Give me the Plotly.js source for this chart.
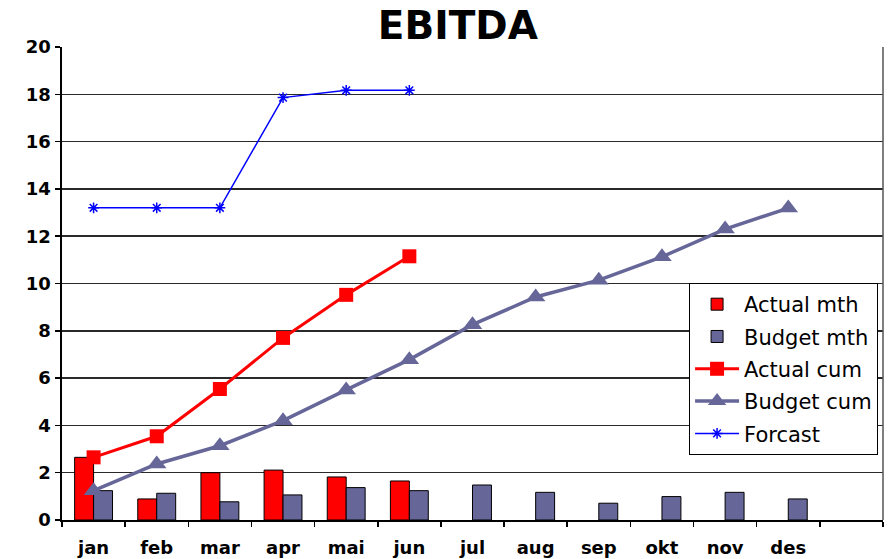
<!DOCTYPE html>
<html>
<head>
<meta charset="utf-8">
<script src="https://cdn.plot.ly/plotly-3.0.1.min.js"></script>
<style>html,body{margin:0;padding:0;background:#fff;}#chart{width:889px;height:559px;}</style>
</head>
<body>
<div id="chart"></div>
<script>
var months = ["jan","feb","mar","apr","mai","jun","jul","aug","sep","okt","nov","des"];
var allCategories = ["jan","feb","mar","apr","mai","jun","jul","aug","sep","okt","nov","des"," "];
var actualMth = [2.65, 0.89, 2.0, 2.11, 1.82, 1.65];
var budgetMth = [1.24, 1.13, 0.77, 1.06, 1.37, 1.24, 1.48, 1.17, 0.71, 0.99, 1.17, 0.89];
var actualCum = [2.65, 3.54, 5.54, 7.70, 9.52, 11.15];
var budgetCum = [1.24, 2.37, 3.14, 4.20, 5.50, 6.78, 8.26, 9.43, 10.14, 11.13, 12.30, 13.19];
var forecast = [13.2, 13.2, 13.2, 17.86, 18.17, 18.17];

var traces = [
  {type:"bar", name:"Actual mth", x:months.slice(0, actualMth.length), y:actualMth,
   marker:{color:"#FF0000", line:{color:"#000", width:1}}, legendgroup:"a"},
  {type:"bar", name:"Budget mth", x:months, y:budgetMth,
   marker:{color:"#666699", line:{color:"#000", width:1}}, legendgroup:"b"},
  {type:"scatter", mode:"lines+markers", name:"Actual cum", x:months.slice(0, actualCum.length), y:actualCum,
   line:{color:"#FF0000", width:3}, marker:{symbol:"square", size:14, color:"#FF0000"}, legendgroup:"c"},
  {type:"scatter", mode:"lines+markers", name:"Budget cum", x:months, y:budgetCum,
   line:{color:"#666699", width:3.5}, marker:{symbol:"triangle-up", size:17, color:"#666699"}, legendgroup:"d"},
  {type:"scatter", mode:"lines+markers", name:"Forcast", x:months.slice(0, forecast.length), y:forecast,
   line:{color:"#0000FF", width:1.5}, marker:{symbol:"asterisk-open", size:9, color:"#0000FF", line:{color:"#0000FF", width:1.5}}, legendgroup:"e"}
];

var layout = {
  width:889, height:559,
  margin:{l:62, r:6, t:47, b:39},
  paper_bgcolor:"#fff", plot_bgcolor:"#fff",
  font:{family:"DejaVu Sans, Verdana, sans-serif", color:"#000"},
  title:{text:"<b>EBITDA</b>", font:{size:39, family:"DejaVu Sans, Verdana, sans-serif", color:"#000"},
         x:0.515, xanchor:"center", y:0.955, yref:"container", yanchor:"middle"},
  barmode:"group", bargap:0.4, bargroupgap:0,
  showlegend:true,
  legend:{x:0.994, xanchor:"right", y:0.501, yanchor:"top", bgcolor:"#fff",
          bordercolor:"#000", borderwidth:1, font:{size:21, color:"#000"},
          traceorder:"grouped", tracegroupgap:2, itemwidth:44},
  xaxis:{type:"category", categoryorder:"array", categoryarray:allCategories,
         range:[-0.5, 12.5], tickson:"boundaries", ticks:"outside", ticklen:5, tickwidth:1.5, tickcolor:"#000",
         ticklabelstandoff:10,
         showline:true, linecolor:"#000", linewidth:2, showgrid:false,
         tickfont:{size:18, family:"DejaVu Sans, Verdana, sans-serif", weight:"bold", color:"#000"}},
  yaxis:{range:[0,20], dtick:2, tick0:0, ticks:"outside", ticklen:5, tickwidth:1.5, tickcolor:"#000",
         showline:true, linecolor:"#000", linewidth:2.5, showgrid:true, gridcolor:"#2a2a2a", gridwidth:1.5,
         zeroline:false,
         tickfont:{size:18, family:"DejaVu Sans, Verdana, sans-serif", weight:"bold", color:"#000"}},
  shapes:[{type:"line", xref:"paper", yref:"paper", x0:1, x1:1, y0:0, y1:1, line:{color:"#555", width:1.5}}]
};

Plotly.newPlot("chart", traces, layout, {displayModeBar:false, staticPlot:true});
</script>
</body>
</html>
